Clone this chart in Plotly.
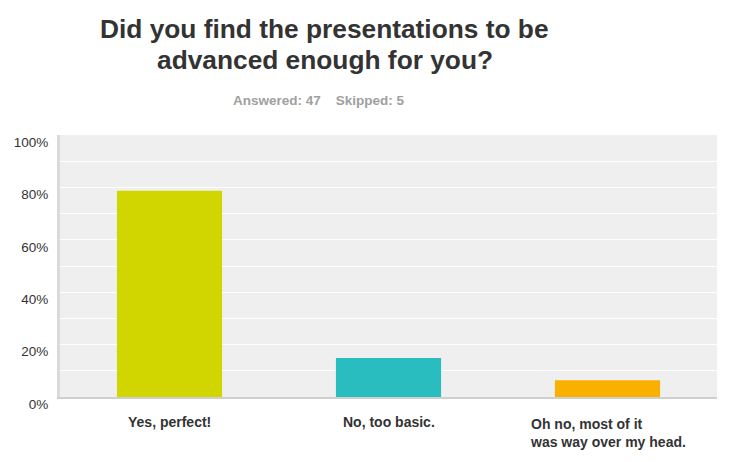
import plotly.graph_objects as go

# survey answers (percent of respondents)
categories = ["Yes, perfect!", "No, too basic.", "Oh no, most of it<br>was way over my head."]
percents = [78.72, 14.89, 6.38]
bar_colors = ["#d1d600", "#29bdc0", "#f9b000"]
y_ticks = [0, 20, 40, 60, 80, 100]
y_labels = ["0%", "20%", "40%", "60%", "80%", "100%"]

font = "Liberation Sans, Arial, sans-serif"

# the page body adds 8px around the figure, so the figure is 8px smaller
fig = go.Figure(go.Bar(
    x=categories,
    y=percents,
    marker=dict(color=bar_colors, line=dict(width=0)),
    hoverinfo="skip",
))

fig.update_layout(
    width=730,
    height=454,
    margin=dict(l=52, r=21, t=127, b=65, autoexpand=False),
    paper_bgcolor="white",
    plot_bgcolor="#efefef",
    bargap=0.52,
    showlegend=False,
    font=dict(family=font, color="#333333"),
)

# title, one annotation per line to keep the tight line spacing
title_lines = ["Did you find the presentations to be", "advanced enough for you?"]
for line, ypos in zip(title_lines, [1.405, 1.287]):
    fig.add_annotation(
        text="<b>" + line + "</b>",
        xref="paper", yref="paper",
        x=0.403, y=ypos, xanchor="center", yanchor="middle",
        showarrow=False,
        font=dict(size=26.3, color="#333333", family=font),
    )

fig.add_annotation(
    text="<b>Answered: 47&nbsp;&nbsp;&nbsp;&nbsp;Skipped: 5</b>",
    xref="paper", yref="paper",
    x=0.394, y=1.13,
    xanchor="center", yanchor="middle",
    showarrow=False,
    font=dict(size=13.5, color="#a0a0a0", family=font),
)

# category labels, left aligned as a block under each bar
for cat in categories:
    n_lines = cat.count("<br>") + 1
    fig.add_annotation(
        text="<b>" + cat + "</b>",
        x=cat, y=0, xref="x", yref="paper",
        xanchor="center", yanchor="middle",
        yshift=-25 - 10.5 * (n_lines - 1),
        align="left", showarrow=False,
        font=dict(size=14, color="#333333", family=font),
    )

fig.update_xaxes(
    showticklabels=False,
    showgrid=False,
    showline=True, linecolor="#cfcfcf", linewidth=2,
    automargin=False,
    fixedrange=True,
)
fig.update_yaxes(
    range=[0, 100],
    tickvals=y_ticks,
    ticktext=y_labels,
    tickfont=dict(size=13.5, color="#333333", family=font),
    ticks="outside", ticklen=6, tickcolor="rgba(0,0,0,0)",
    ticklabelshift=7,
    showgrid=True, gridcolor="white", gridwidth=1,
    minor=dict(dtick=10, showgrid=True, gridcolor="white", gridwidth=1),
    showline=True, linecolor="#dadada", linewidth=3,
    zeroline=False,
    automargin=False,
    fixedrange=True,
)

fig.write_html("out.html")
